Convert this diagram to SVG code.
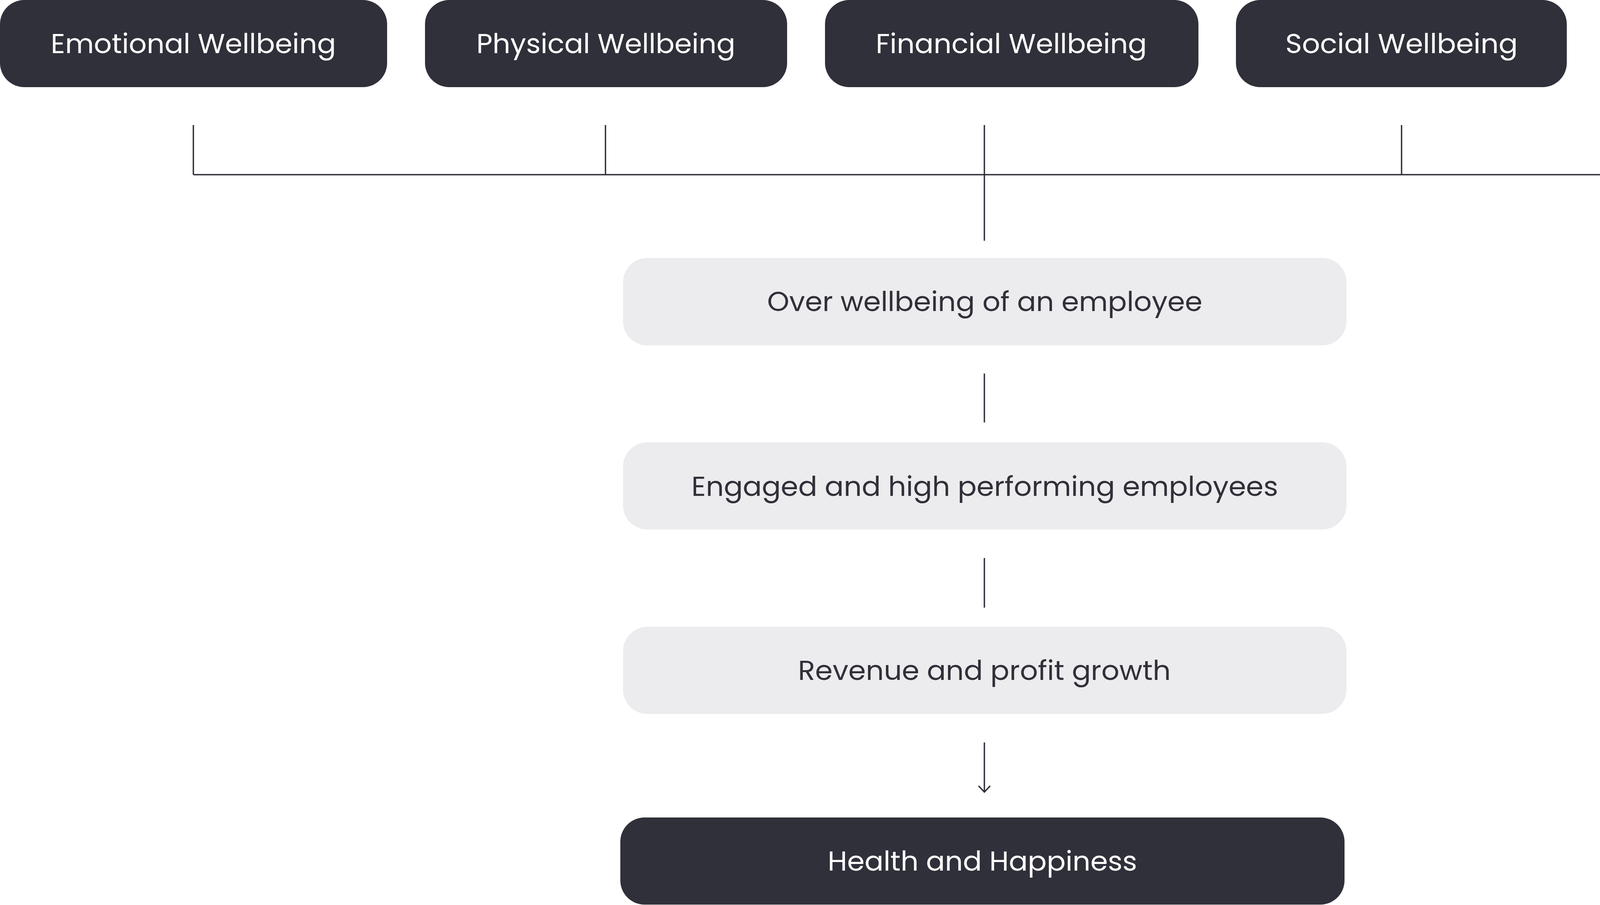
<svg xmlns="http://www.w3.org/2000/svg" width="5032" height="2316" viewBox="0 0 5032 2316">
  <defs>
    <style>
      .dark { fill: #30303a; }
      .light { fill: #ececee; }
      .tw { fill: #ffffff; font-family: Poppins, Inter, "Open Sans", sans-serif; font-size: 69px; text-anchor: middle; }
      .td { fill: #30303a; font-family: Poppins, Inter, "Open Sans", sans-serif; font-size: 69px; text-anchor: middle; }
      .conn { stroke: #30303a; stroke-width: 3.5; fill: none; }
    </style>
    <marker id="arrow" markerUnits="userSpaceOnUse" viewBox="-20 -20 40 40" markerWidth="40" markerHeight="40" refX="0" refY="0" orient="auto" overflow="visible">
      <path d="M-15,-14 L0,0 L-15,14" fill="none" stroke="#30303a" stroke-width="3.5" stroke-linecap="round" stroke-linejoin="round"/>
    </marker>
  </defs>
  <rect width="5032" height="2316" fill="#ffffff"/>

  <g id="emotional">
    <rect class="dark" x="0" y="0" width="991" height="223" rx="62" ry="62"/>
    <text class="tw" x="495" y="136" textLength="730" lengthAdjust="spacingAndGlyphs">Emotional Wellbeing</text>
  </g>
  <g id="physical">
    <rect class="dark" x="1088" y="0" width="927" height="223" rx="62" ry="62"/>
    <text class="tw" x="1551" y="136" textLength="663" lengthAdjust="spacingAndGlyphs">Physical Wellbeing</text>
  </g>
  <g id="financial">
    <rect class="dark" x="2112" y="0" width="956" height="223" rx="62" ry="62"/>
    <text class="tw" x="2589" y="136" textLength="694" lengthAdjust="spacingAndGlyphs">Financial Wellbeing</text>
  </g>
  <g id="social">
    <rect class="dark" x="3164" y="0" width="847" height="223" rx="62" ry="62"/>
    <text class="tw" x="3588" y="136" textLength="595" lengthAdjust="spacingAndGlyphs">Social Wellbeing</text>
  </g>
  <g id="spiritual">
    <rect class="dark" x="4108" y="0" width="924" height="223" rx="62" ry="62"/>
    <text class="tw" x="4570" y="136" textLength="665" lengthAdjust="spacingAndGlyphs">Spiritual Wellbeing</text>
  </g>

  <g id="connectors">
    <line class="conn" x1="495" y1="320" x2="495" y2="447"/>
    <line class="conn" x1="1550" y1="320" x2="1550" y2="447"/>
    <line class="conn" x1="2520" y1="320" x2="2520" y2="616"/>
    <line class="conn" x1="3588" y1="320" x2="3588" y2="447"/>
    <line class="conn" x1="4571" y1="320" x2="4571" y2="447"/>
    <line class="conn" x1="495" y1="447" x2="4571" y2="447"/>
    <line class="conn" x1="2520" y1="956" x2="2520" y2="1081"/>
    <line class="conn" x1="2520" y1="1428" x2="2520" y2="1555"/>
    <line class="conn" x1="2520" y1="1900" x2="2520" y2="2027" marker-end="url(#arrow)"/>
  </g>

  <g id="overall">
    <rect class="light" x="1595" y="660" width="1852" height="224" rx="62" ry="62"/>
    <text class="td" x="2521" y="796" textLength="1114" lengthAdjust="spacingAndGlyphs">Over wellbeing of an employee</text>
  </g>
  <g id="engaged">
    <rect class="light" x="1595" y="1132" width="1852" height="223" rx="62" ry="62"/>
    <text class="td" x="2521" y="1269" textLength="1502" lengthAdjust="spacingAndGlyphs">Engaged and high performing employees</text>
  </g>
  <g id="revenue">
    <rect class="light" x="1595" y="1604" width="1852" height="223" rx="62" ry="62"/>
    <text class="td" x="2520" y="1740" textLength="954" lengthAdjust="spacingAndGlyphs">Revenue and profit growth</text>
  </g>
  <g id="health">
    <rect class="dark" x="1588" y="2092" width="1854" height="223" rx="62" ry="62"/>
    <text class="tw" x="2515" y="2228" textLength="792" lengthAdjust="spacingAndGlyphs">Health and Happiness</text>
  </g>
</svg>
